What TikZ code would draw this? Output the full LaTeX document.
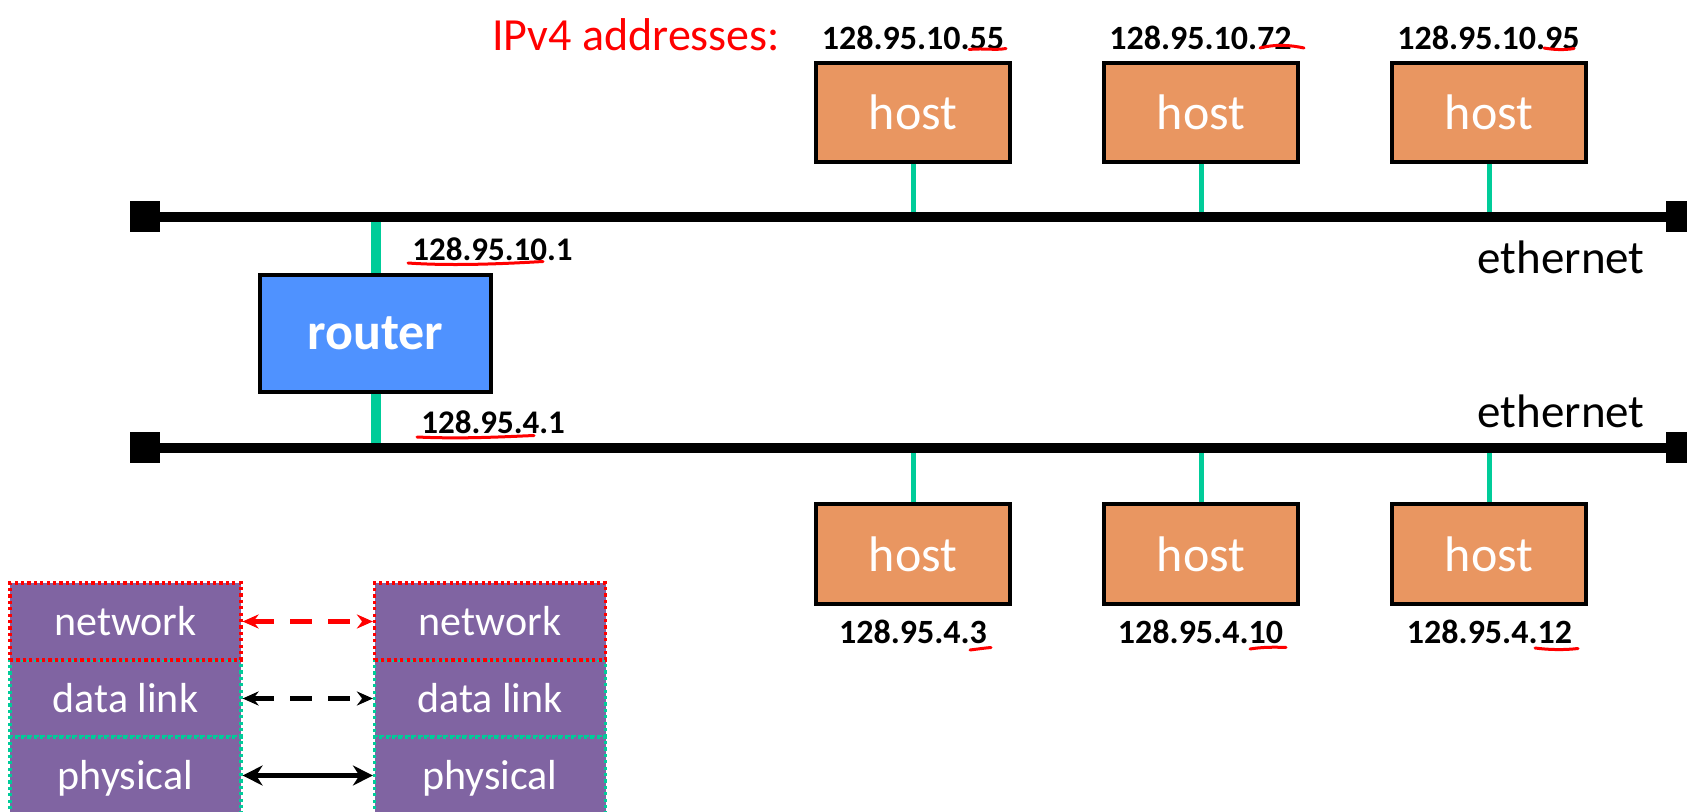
\documentclass[tikz,border=0pt]{standalone}
\usepackage{fontspec}
\setmainfont{Carlito}
\usetikzlibrary{arrows.meta}
\definecolor{hostfill}{RGB}{233,150,97}
\definecolor{routerfill}{RGB}{79,146,255}
\definecolor{tapgreen}{RGB}{0,204,153}
\definecolor{layerfill}{RGB}{128,100,162}
\begin{document}
\begin{tikzpicture}[x=0.5pt,y=-0.5pt,
 hostbox/.style={draw=black,line width=2pt,fill=hostfill,minimum width=97pt,minimum height=49.5pt,inner sep=0pt,text=white,font=\fontsize{25}{30}\selectfont},
 routerbox/.style={draw=black,line width=2pt,fill=routerfill,minimum width=115.5pt,minimum height=58.5pt,inner sep=0pt,text=white,font=\bfseries\fontsize{26}{31}\selectfont},
 term/.style={fill=black,minimum width=15pt,minimum height=15.5pt,inner sep=0pt},
 bus/.style={line width=5pt,black},
 hosttap/.style={tapgreen,line width=2.5pt},
 routertap/.style={tapgreen,line width=5pt},
 ip/.style={font=\bfseries\fontsize{17}{20}\selectfont,inner sep=0pt},
 rip/.style={font=\bfseries\fontsize{16.5}{20}\selectfont,inner sep=0pt,anchor=west},
 ethlabel/.style={font=\fontsize{23.5}{28}\selectfont,inner sep=0pt,anchor=east},
 layer/.style={fill=layerfill,minimum width=115.5pt,minimum height=38.5pt,inner sep=0pt,text=white,font=\fontsize{21}{25}\selectfont,text height=13.5pt,text depth=0pt,line width=1.6pt,dash pattern=on 1.6pt off 1.6pt},
 netlayer/.style={layer,draw=red},
 lowlayer/.style={layer,draw=tapgreen},
 dashpeer/.style={line width=2.3pt,dash pattern=on 11pt off 8pt,{Stealth[length=8pt,width=7pt]}-{Stealth[length=8pt,width=7pt]}},
 solidpeer/.style={line width=2.7pt,{Stealth[length=10pt,width=10pt]}-{Stealth[length=10pt,width=10pt]}},
 ul/.style={red,line width=1.5pt,line cap=round}
]
\useasboundingbox (0,0) rectangle (1687,812);

% bus terminators
\node[term] (t1L) at (145,217) {};
\node[term] (t1R) at (1681,217) {};
\node[term] (t2L) at (145,448) {};
\node[term] (t2R) at (1681,448) {};

% hosts
\node[hostbox] (h1) at (913,112.5) {host};
\node[hostbox] (h2) at (1201,112.5) {host};
\node[hostbox] (h3) at (1489,112.5) {host};
\node[hostbox] (h4) at (913,554) {host};
\node[hostbox] (h5) at (1201,554) {host};
\node[hostbox] (h6) at (1489,554) {host};

% router
\node[routerbox] (router) at (375.5,333.5) {router};

% tap points on the buses
\coordinate (b1) at (913,217);
\coordinate (b2) at (1201,217);
\coordinate (b3) at (1489,217);
\coordinate (b4) at (913,448);
\coordinate (b5) at (1201,448);
\coordinate (b6) at (1489,448);
\coordinate (rt) at (375.5,217);
\coordinate (rb) at (375.5,448);

\draw[hosttap] (h1) -- (b1);
\draw[hosttap] (h2) -- (b2);
\draw[hosttap] (h3) -- (b3);
\draw[hosttap] (h4) -- (b4);
\draw[hosttap] (h5) -- (b5);
\draw[hosttap] (h6) -- (b6);
\draw[routertap] (router) -- (rt);
\draw[routertap] (router) -- (rb);

% buses
\draw[bus] (t1L) -- (t1R);
\draw[bus] (t2L) -- (t2R);

% labels
\node[ethlabel] (e1) at (1645,257.5) {ethernet};
\node[ethlabel] (e2) at (1645,411) {ethernet};

\node[ip] (a1) at (913,38) {128.95.10.55};
\node[ip] (a2) at (1200.5,38) {128.95.10.72};
\node[ip] (a3) at (1488.5,38) {128.95.10.95};
\node[ip] (a4) at (913,632) {128.95.4.3};
\node[ip] (a5) at (1200.5,632) {128.95.4.10};
\node[ip] (a6) at (1489.5,632) {128.95.4.12};
\node[rip] (ar1) at (412,249) {128.95.10.1};
\node[rip] (ar2) at (421,422) {128.95.4.1};

\node[anchor=west,text=red,inner sep=0pt,font=\fontsize{23}{28}\selectfont] (ipv4) at (492,35) {IPv4 addresses:};

% handwritten underlines
\draw[ul] (969,49.5) .. controls (985,48) and (995,50.5) .. (1006,48.5);
\draw[ul] (1260,48) .. controls (1275,44) and (1290,45) .. (1304,48);
\draw[ul] (1544,48) .. controls (1555,50) and (1565,50) .. (1574,48.5);
\draw[ul] (408,263) .. controls (450,266) and (500,264) .. (543,261.5);
\draw[ul] (417,437) .. controls (460,439) and (500,437) .. (534,435.5);
\draw[ul] (970,650) .. controls (978,649) and (985,648) .. (991,647.5);
\draw[ul] (1250,649) .. controls (1262,647) and (1275,647) .. (1286,647.5);
\draw[ul] (1535,648) .. controls (1550,650) and (1565,650) .. (1578,648.5);

% protocol layers
\node[lowlayer] (dL) at (125.5,698.5) {data link};
\node[lowlayer] (pL) at (125.5,775.5) {physical};
\node[netlayer] (nL) at (125.5,621.5) {network};
\node[lowlayer] (dR) at (490,698.5) {data link};
\node[lowlayer] (pR) at (490,775.5) {physical};
\node[netlayer] (nR) at (490,621.5) {network};

\draw[dashpeer,red] (nL) -- (nR);
\draw[dashpeer,black] (dL) -- (dR);
\draw[solidpeer,black] (pL) -- (pR);
\end{tikzpicture}
\end{document}
